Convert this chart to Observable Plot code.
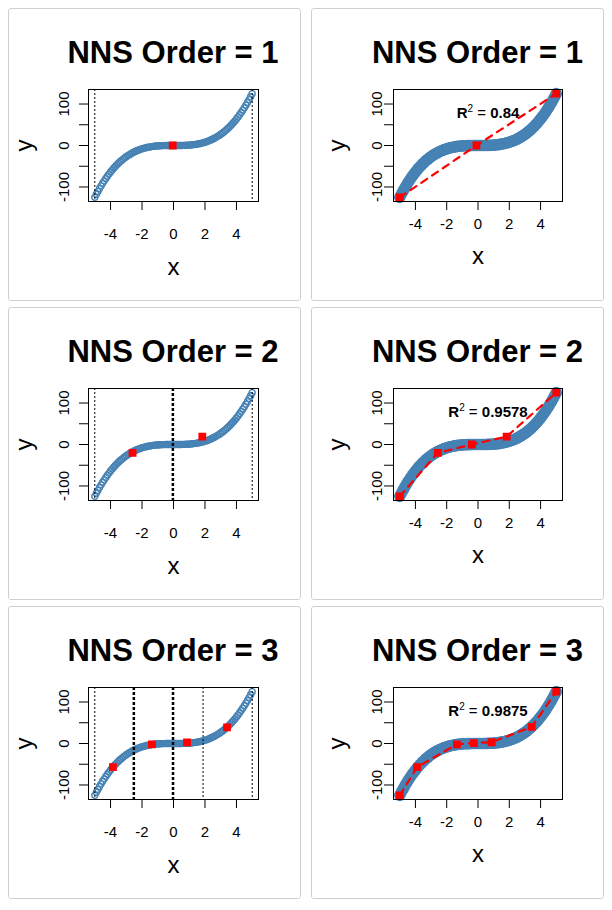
<!DOCTYPE html>
<html><head><meta charset="utf-8">
<script src="https://cdn.jsdelivr.net/npm/d3@7"></script>
<script src="https://cdn.jsdelivr.net/npm/@observablehq/plot@0.6"></script>
<style>
body{margin:0;background:#fff;font-family:"Liberation Sans",Arial,sans-serif;}
#root{position:relative;width:612px;height:910px;}
.card{position:absolute;box-sizing:border-box;width:293px;height:293px;border:1px solid #cfcfcf;border-radius:3px;background:#fff;overflow:hidden;}
.title{box-sizing:border-box;height:60px;padding-top:28px;font-size:31px;line-height:31px;font-weight:bold;text-align:center;white-space:nowrap;color:#000;}
.card svg{display:block;}
</style></head><body><div id="root"></div>
<script>
// ---- data ----
const titles = ["NNS Order = 1", "NNS Order = 2", "NNS Order = 3"];
const xs = [-5,-4.9,-4.8,-4.7,-4.6,-4.5,-4.4,-4.3,-4.2,-4.1,-4,-3.9,-3.8,-3.7,-3.6,-3.5,-3.4,-3.3,-3.2,-3.1,
  -3,-2.9,-2.8,-2.7,-2.6,-2.5,-2.4,-2.3,-2.2,-2.1,-2,-1.9,-1.8,-1.7,-1.6,-1.5,-1.4,-1.3,-1.2,-1.1,
  -1,-0.9,-0.8,-0.7,-0.6,-0.5,-0.4,-0.3,-0.2,-0.1,0,0.1,0.2,0.3,0.4,0.5,0.6,0.7,0.8,0.9,
  1,1.1,1.2,1.3,1.4,1.5,1.6,1.7,1.8,1.9,2,2.1,2.2,2.3,2.4,2.5,2.6,2.7,2.8,2.9,
  3,3.1,3.2,3.3,3.4,3.5,3.6,3.7,3.8,3.9,4,4.1,4.2,4.3,4.4,4.5,4.6,4.7,4.8,4.9,5];
const ys = [-125,-117.6,-110.6,-103.8,-97.3,-91.1,-85.2,-79.5,-74.1,-68.9,-64,-59.3,-54.9,-50.7,-46.7,-42.9,-39.3,-35.9,-32.8,-29.8,
  -27,-24.4,-22,-19.7,-17.6,-15.6,-13.8,-12.2,-10.6,-9.3,-8,-6.9,-5.8,-4.9,-4.1,-3.4,-2.7,-2.2,-1.7,-1.3,
  -1,-0.7,-0.5,-0.3,-0.2,-0.1,-0.1,0,0,0,0,0,0,0,0.1,0.1,0.2,0.3,0.5,0.7,
  1,1.3,1.7,2.2,2.7,3.4,4.1,4.9,5.8,6.9,8,9.3,10.6,12.2,13.8,15.6,17.6,19.7,22,24.4,
  27,29.8,32.8,35.9,39.3,42.9,46.7,50.7,54.9,59.3,64,68.9,74.1,79.5,85.2,91.1,97.3,103.8,110.6,117.6,125];

// left panels: red segment means and dotted boundaries
const meanX1 = [-0.05], meanY1 = [0];
const meanX2 = [-2.6, 1.83], meanY2 = [-20, 19];
const meanX3 = [-3.85, -1.37, 0.86, 3.4], meanY3 = [-57, -2, 2.5, 39];
const thinLines1 = [-5, 5], thickLines1 = [];
const thinLines2 = [-5, 5], thickLines2 = [-0.04];
const thinLines3 = [-5, 1.88, 5], thickLines3 = [-2.52, -0.03];

// right panels: fitted points joined by dashed line
const fitX1 = [-5, -0.1, 5], fitY1 = [-125, 0, 125];
const fitX2 = [-5, -2.57, -0.39, 1.83, 5], fitY2 = [-125, -20, 0, 19, 125];
const fitX3 = [-5, -3.89, -1.35, -0.26, 0.87, 3.43, 5], fitY3 = [-125, -57, -2, 1, 3, 40, 125];
const r2Values = ["0.84", "0.9578", "0.9875"];

const xTicks = [-4, -2, 0, 2, 4];
const yTicks = [-100, -50, 0, 50, 100];
const yTickLabels = [-100, 0, 100];

// ---- build ----
const curve = xs.map((x, i) => ({x, y: ys[i]}));
const zip = (a, b) => a.map((x, i) => ({x, y: b[i]}));
const means = [zip(meanX1, meanY1), zip(meanX2, meanY2), zip(meanX3, meanY3)];
const thins = [thinLines1, thinLines2, thinLines3];
const thicks = [thickLines1, thickLines2, thickLines3];
const fits = [zip(fitX1, fitY1), zip(fitX2, fitY2), zip(fitX3, fitY3)];

const FONT = '"Liberation Sans", Arial, sans-serif';
const fmt = d => String(d);

function commonAxes(o) {
  return [
    Plot.axisX({ticks: xTicks, tickSize: 9, tickPadding: o.xPad, tickFormat: fmt, fontSize: 15, label: null}),
    Plot.axisY({ticks: yTicks, tickSize: 9, tickFormat: () => "", label: null}),
    Plot.axisY({ticks: yTickLabels, tickSize: 0, tickPadding: o.yPad, tickRotate: -90, tickFormat: fmt, fontSize: 15, label: null}),
    Plot.text(["x"], {frameAnchor: "bottom", dy: o.xLab, fontSize: 24, textAnchor: "middle", lineAnchor: "middle"}),
    Plot.text(["y"], {frameAnchor: "left", dx: o.yLab, rotate: -90, fontSize: 24, textAnchor: "middle", lineAnchor: "middle"}),
    Plot.frame({stroke: "black", strokeWidth: 1})
  ];
}

function leftPlot(k) {
  return Plot.plot({
    width: 291, height: 231, marginLeft: 79, marginRight: 42, marginTop: 20, marginBottom: 99,
    x: {domain: [-5.4, 5.4]}, y: {domain: [-135, 135]},
    style: {fontFamily: FONT, fontSize: "15px", color: "black", background: "white", overflow: "visible"},
    marks: [
      Plot.dot(curve, {x: "x", y: "y", r: 3, stroke: "steelblue", strokeWidth: 1.4, fill: "none"}),
      Plot.ruleX(thins[k], {stroke: "black", strokeWidth: 1, strokeDasharray: "2,2"}),
      Plot.ruleX(thicks[k], {stroke: "black", strokeWidth: 2.5, strokeDasharray: "3,2"}),
      Plot.dot(means[k], {x: "x", y: "y", symbol: "square", r: 4.4, fill: "red", stroke: "none"}),
      ...commonAxes({xPad: 17.5, yPad: 20, xLab: 65.5, yLab: -64})
    ]
  });
}

function rightPlot(k) {
  const svg = Plot.plot({
    width: 291, height: 231, marginLeft: 81, marginRight: 41, marginTop: 20, marginBottom: 99,
    x: {domain: [-5.4, 5.4]}, y: {domain: [-135, 135]},
    style: {fontFamily: FONT, fontSize: "15px", color: "black", background: "white", overflow: "visible"},
    marks: [
      Plot.dot(curve, {x: "x", y: "y", r: 5.8, fill: "steelblue", stroke: "none"}),
      Plot.line(fits[k], {x: "x", y: "y", stroke: "red", strokeWidth: 2.2, strokeDasharray: "7,6"}),
      Plot.dot(fits[k], {x: "x", y: "y", symbol: "square", r: 4.4, fill: "red", stroke: "none"}),
      Plot.text([r2Values[k]], {frameAnchor: "top", dx: 10, dy: 28, lineAnchor: "bottom", fontSize: 15, fontWeight: "bold", className: "r2"}),
      ...commonAxes({xPad: 8, yPad: 12, xLab: 54.7, yLab: -56})
    ]
  });
  svg.querySelectorAll(".r2 text").forEach(t => {
    const v = t.textContent;
    t.textContent = "";
    const ns = "http://www.w3.org/2000/svg";
    const add = (s, attrs) => { const e = document.createElementNS(ns, "tspan"); e.textContent = s; for (const a in attrs) e.setAttribute(a, attrs[a]); t.appendChild(e); };
    add("R", {});
    add("2", {"font-size": "10", dy: "-6", "font-weight": "normal"});
    add(" = ", {dy: "6", "font-weight": "normal"});
    add(v, {});
  });
  return svg;
}

const root = document.getElementById("root");
const lefts = [8, 311], tops = [8, 307, 606];
for (let k = 0; k < 3; k++) {
  for (let c = 0; c < 2; c++) {
    const card = document.createElement("div");
    card.className = "card";
    card.style.left = lefts[c] + "px";
    card.style.top = tops[k] + "px";
    const t = document.createElement("div");
    t.className = "title";
    t.style.paddingLeft = (c === 0 ? 37 : 40) + "px";
    t.textContent = titles[k];
    card.appendChild(t);
    card.appendChild(c === 0 ? leftPlot(k) : rightPlot(k));
    root.appendChild(card);
  }
}
</script></body></html>
